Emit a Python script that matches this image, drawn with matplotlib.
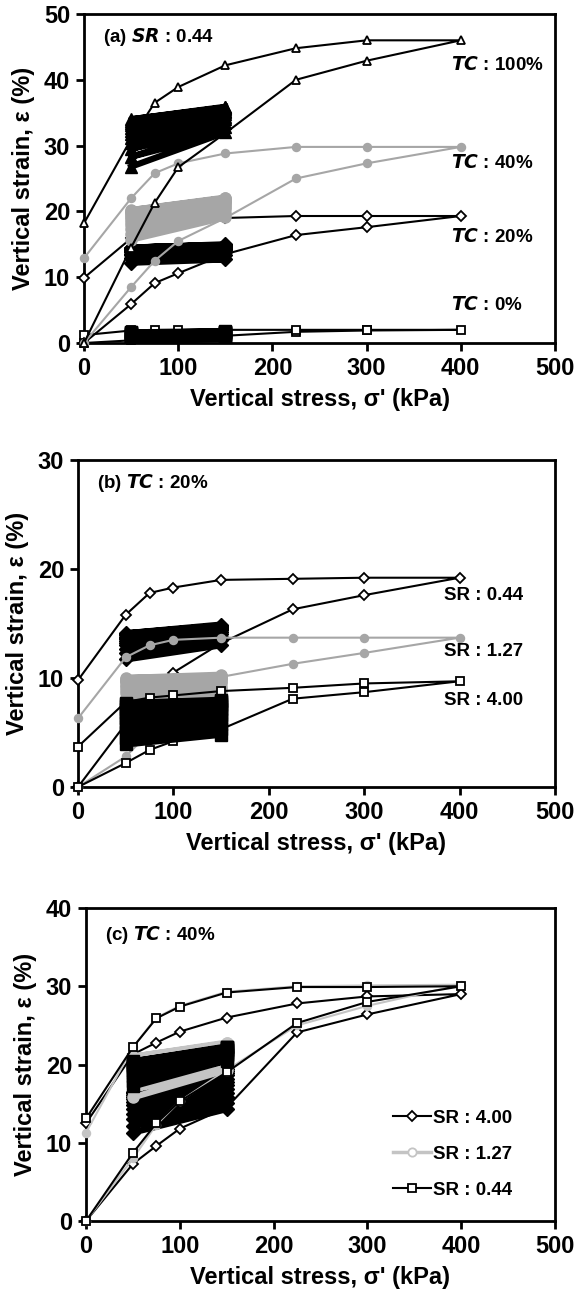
import matplotlib
matplotlib.use("Agg")
import matplotlib.pyplot as plt
from matplotlib.lines import Line2D

plt.rcParams["font.family"] = ["Liberation Sans", "DejaVu Sans"]
plt.rcParams["font.weight"] = "bold"
plt.rcParams["axes.labelweight"] = "bold"

# ─────────────────────────────────────────────
# DATA
# ─────────────────────────────────────────────

# loading 0 -> 400 kPa then unloading 400 -> 0 kPa
STRESS = [0, 50, 75, 100, 150, 225, 300, 400, 300, 225, 150, 100, 75, 50, 0]
# cyclic loading between these two stress levels
CYCLE_STRESS = [50, 150]

# (a) SR 0.44, different TC
a_tc0 = [0, 0.4, 0.6, 0.8, 1.1, 1.7, 1.9, 2.0, 2.0, 2.0, 2.0, 2.0, 2.0, 1.9, 1.2]
a_tc0_lo = [0.3, 0.6, 0.8, 1.0, 1.1, 1.2, 1.3, 1.4, 1.5, 1.5, 1.6, 1.6]
a_tc0_hi = [0.6, 0.9, 1.1, 1.2, 1.3, 1.4, 1.5, 1.6, 1.6, 1.7, 1.7, 1.8]

a_tc20 = [0, 5.9, 9.1, 10.6, 13.5, 16.4, 17.6, 19.3, 19.3, 19.3, 19.0, 18.2, 17.8, 15.9, 9.9]
a_tc20_lo = [12.2, 12.9, 13.3, 13.6, 13.8, 14.0, 14.1, 14.2, 14.3, 14.4, 14.5, 14.5]
a_tc20_hi = [12.7, 13.4, 13.8, 14.1, 14.3, 14.5, 14.6, 14.7, 14.8, 14.9, 14.9, 15.0]

a_tc40 = [0, 8.5, 12.5, 15.5, 19.0, 25.0, 27.3, 29.8, 29.8, 29.8, 28.8, 27.3, 25.8, 22.0, 12.9]
a_tc40_lo = [15.7, 16.6, 17.3, 17.9, 18.4, 18.8, 19.1, 19.4, 19.7, 19.9, 20.1, 20.2]
a_tc40_hi = [19.1, 19.8, 20.3, 20.7, 21.0, 21.3, 21.5, 21.7, 21.8, 21.9, 22.0, 22.1]

a_tc100 = [0, 14.5, 21.3, 26.7, 31.9, 40.0, 42.9, 46.0, 46.0, 44.8, 42.2, 38.9, 36.5, 31.0, 18.2]
a_tc100_lo = [26.8, 28.3, 29.5, 30.4, 31.1, 31.7, 32.2, 32.7, 33.1, 33.4, 33.7, 34.0]
a_tc100_hi = [32.0, 32.8, 33.5, 34.0, 34.4, 34.8, 35.1, 35.3, 35.5, 35.7, 35.8, 35.9]

# (b) TC 20%, different SR
b_sr044 = [0, 5.8, 8.5, 10.5, 13.2, 16.3, 17.6, 19.2, 19.2, 19.1, 19.0, 18.3, 17.8, 15.8, 9.8]
b_sr044_lo = [11.7, 12.3, 12.7, 13.0, 13.2, 13.4, 13.6, 13.7, 13.8, 13.9, 14.0, 14.1]
b_sr044_hi = [13.0, 13.5, 13.8, 14.0, 14.2, 14.4, 14.5, 14.6, 14.7, 14.8, 14.8, 14.9]

b_sr127 = [0, 2.8, 5.0, 7.3, 10.1, 11.3, 12.3, 13.7, 13.7, 13.7, 13.7, 13.5, 13.0, 11.9, 6.3]
b_sr127_lo = [7.3, 7.8, 8.2, 8.6, 8.9, 9.2, 9.4, 9.6, 9.7, 9.8, 9.9, 10.0]
b_sr127_hi = [8.0, 8.5, 8.9, 9.2, 9.5, 9.7, 9.9, 10.0, 10.1, 10.2, 10.2, 10.3]

b_sr400 = [0, 2.2, 3.4, 4.2, 5.3, 8.1, 8.7, 9.7, 9.5, 9.1, 8.8, 8.4, 8.2, 7.8, 3.7]
b_sr400_lo = [3.9, 4.5, 5.0, 5.5, 5.9, 6.3, 6.6, 6.9, 7.2, 7.4, 7.6, 7.7]
b_sr400_hi = [4.8, 5.3, 5.8, 6.2, 6.6, 6.9, 7.2, 7.4, 7.6, 7.8, 7.9, 8.0]

# (c) TC 40%, different SR
c_sr400 = [0, 7.3, 9.6, 11.8, 14.5, 24.1, 26.4, 29.0, 28.7, 27.8, 26.0, 24.2, 22.8, 21.3, 12.5]
c_sr400_lo = [11.3, 12.2, 13.0, 13.7, 14.3, 14.8, 15.2, 15.6, 15.9, 16.1, 16.3, 16.5]
c_sr400_hi = [14.3, 15.1, 15.8, 16.4, 16.9, 17.4, 17.8, 18.2, 18.6, 18.9, 19.2, 19.4]

c_sr127 = [0, 8.0, 12.3, 15.3, 19.3, 25.0, 27.5, 30.2, 30.1, 30.0, 29.3, 27.5, 26.0, 22.2, 11.3]
c_sr127_lo = [15.8, 16.8, 17.6, 18.3, 18.9, 19.4, 19.8, 20.1, 20.4, 20.7, 20.9, 21.0]
c_sr127_hi = [19.3, 20.0, 20.6, 21.1, 21.5, 21.9, 22.1, 22.3, 22.5, 22.6, 22.7, 22.8]

c_sr044 = [0, 8.7, 12.5, 15.3, 19.0, 25.3, 28.0, 30.0, 29.9, 29.9, 29.2, 27.4, 25.9, 22.2, 13.1]
c_sr044_lo = [17.2, 17.9, 18.5, 18.9, 19.3, 19.6, 19.8, 20.0, 20.1, 20.2, 20.3, 20.4]
c_sr044_hi = [20.5, 20.9, 21.2, 21.4, 21.6, 21.8, 21.9, 22.0, 22.1, 22.2, 22.2, 22.3]

BLACK = "black"
GRAY = "#a6a6a6"
LIGHT_GRAY = "#c4c4c4"


def draw_test(ax, strain, lo, hi, color, marker, face, ms=5.5):
    ax.plot(STRESS, strain, color=color, lw=1.5, marker=marker, ms=ms,
            mfc=face, mec=color, mew=1.3, clip_on=False, zorder=3)
    xs, ys = [], []
    for l, h in zip(lo, hi):
        xs += CYCLE_STRESS
        ys += [l, h]
    ax.plot(xs, ys, color=color, lw=4.5, marker=marker, ms=ms + 2.5,
            mfc=color, mec=color, zorder=3)


def style_axes(ax, ymax):
    ax.set_xlim(0, 500)
    ax.set_ylim(0, ymax)
    ax.set_xticks(range(0, 501, 100))
    ax.set_yticks(range(0, ymax + 1, 10))
    for s in ax.spines.values():
        s.set_linewidth(2)
    ax.tick_params(direction="out", length=6, width=2, labelsize=17, pad=4)
    ax.set_xlabel("Vertical stress, σ' (kPa)", fontsize=17, labelpad=6)
    ax.set_ylabel("Vertical strain, ε (%)", fontsize=17, labelpad=6)


fig = plt.figure(figsize=(5.78, 13.11), dpi=100)

# ─────────────────────────────────────────────
# (a) SR : 0.44
# ─────────────────────────────────────────────

ax = fig.add_axes([84 / 578, 1 - 343 / 1311, 471 / 578, 329 / 1311])
draw_test(ax, a_tc0, a_tc0_lo, a_tc0_hi, BLACK, "s", "white")
draw_test(ax, a_tc20, a_tc20_lo, a_tc20_hi, BLACK, "D", "white", ms=5)
draw_test(ax, a_tc40, a_tc40_lo, a_tc40_hi, GRAY, "o", GRAY)
draw_test(ax, a_tc100, a_tc100_lo, a_tc100_hi, BLACK, "^", "white", ms=6)
style_axes(ax, 50)

ax.text(0.04, 0.93, "(a) $\\bf{\\it{SR}}$ : 0.44", transform=ax.transAxes,
        fontsize=13.5, va="center")
for y, lab in [(42.2, "100%"), (27.3, "40%"), (16.1, "20%"), (5.8, "0%")]:
    ax.text(390, y, "$\\bf{\\it{TC}}$ : " + lab, fontsize=13.5, va="center")

# ─────────────────────────────────────────────
# (b) TC : 20%
# ─────────────────────────────────────────────

ax = fig.add_axes([78 / 578, 1 - 787 / 1311, 477 / 578, 327 / 1311])
draw_test(ax, b_sr044, b_sr044_lo, b_sr044_hi, BLACK, "D", "white", ms=5)
draw_test(ax, b_sr127, b_sr127_lo, b_sr127_hi, GRAY, "o", GRAY)
draw_test(ax, b_sr400, b_sr400_lo, b_sr400_hi, BLACK, "s", "white")
style_axes(ax, 30)

ax.text(0.04, 0.93, "(b) $\\bf{\\it{TC}}$ : 20%", transform=ax.transAxes,
        fontsize=13.5, va="center")
for y, lab in [(17.6, "SR : 0.44"), (12.4, "SR : 1.27"), (7.9, "SR : 4.00")]:
    ax.text(384, y, lab, fontsize=13.5, va="center")

# ─────────────────────────────────────────────
# (c) TC : 40%
# ─────────────────────────────────────────────

ax = fig.add_axes([86 / 578, 1 - 1221 / 1311, 469 / 578, 313 / 1311])
draw_test(ax, c_sr400, c_sr400_lo, c_sr400_hi, BLACK, "D", "white", ms=5)
draw_test(ax, c_sr127, c_sr127_lo, c_sr127_hi, LIGHT_GRAY, "o", LIGHT_GRAY)
draw_test(ax, c_sr044, c_sr044_lo, c_sr044_hi, BLACK, "s", "white")
style_axes(ax, 40)

ax.text(0.04, 0.915, "(c) $\\bf{\\it{TC}}$ : 40%", transform=ax.transAxes,
        fontsize=13.5, va="center")

handles = [
    Line2D([], [], color=BLACK, lw=1.5, marker="D", ms=5, mfc="white", mew=1.3),
    Line2D([], [], color=LIGHT_GRAY, lw=2.5, marker="o", ms=6, mfc="white", mew=1.3),
    Line2D([], [], color=BLACK, lw=1.5, marker="s", ms=5.5, mfc="white", mew=1.3),
]
ax.legend(handles, ["SR : 4.00", "SR : 1.27", "SR : 0.44"], loc="upper left",
          bbox_to_anchor=(0.655, 0.355), borderaxespad=0, borderpad=0,
          frameon=False, fontsize=13.5, handlelength=2.0, handletextpad=0.1,
          labelspacing=1.0)

fig.savefig("out.png", dpi=100)
